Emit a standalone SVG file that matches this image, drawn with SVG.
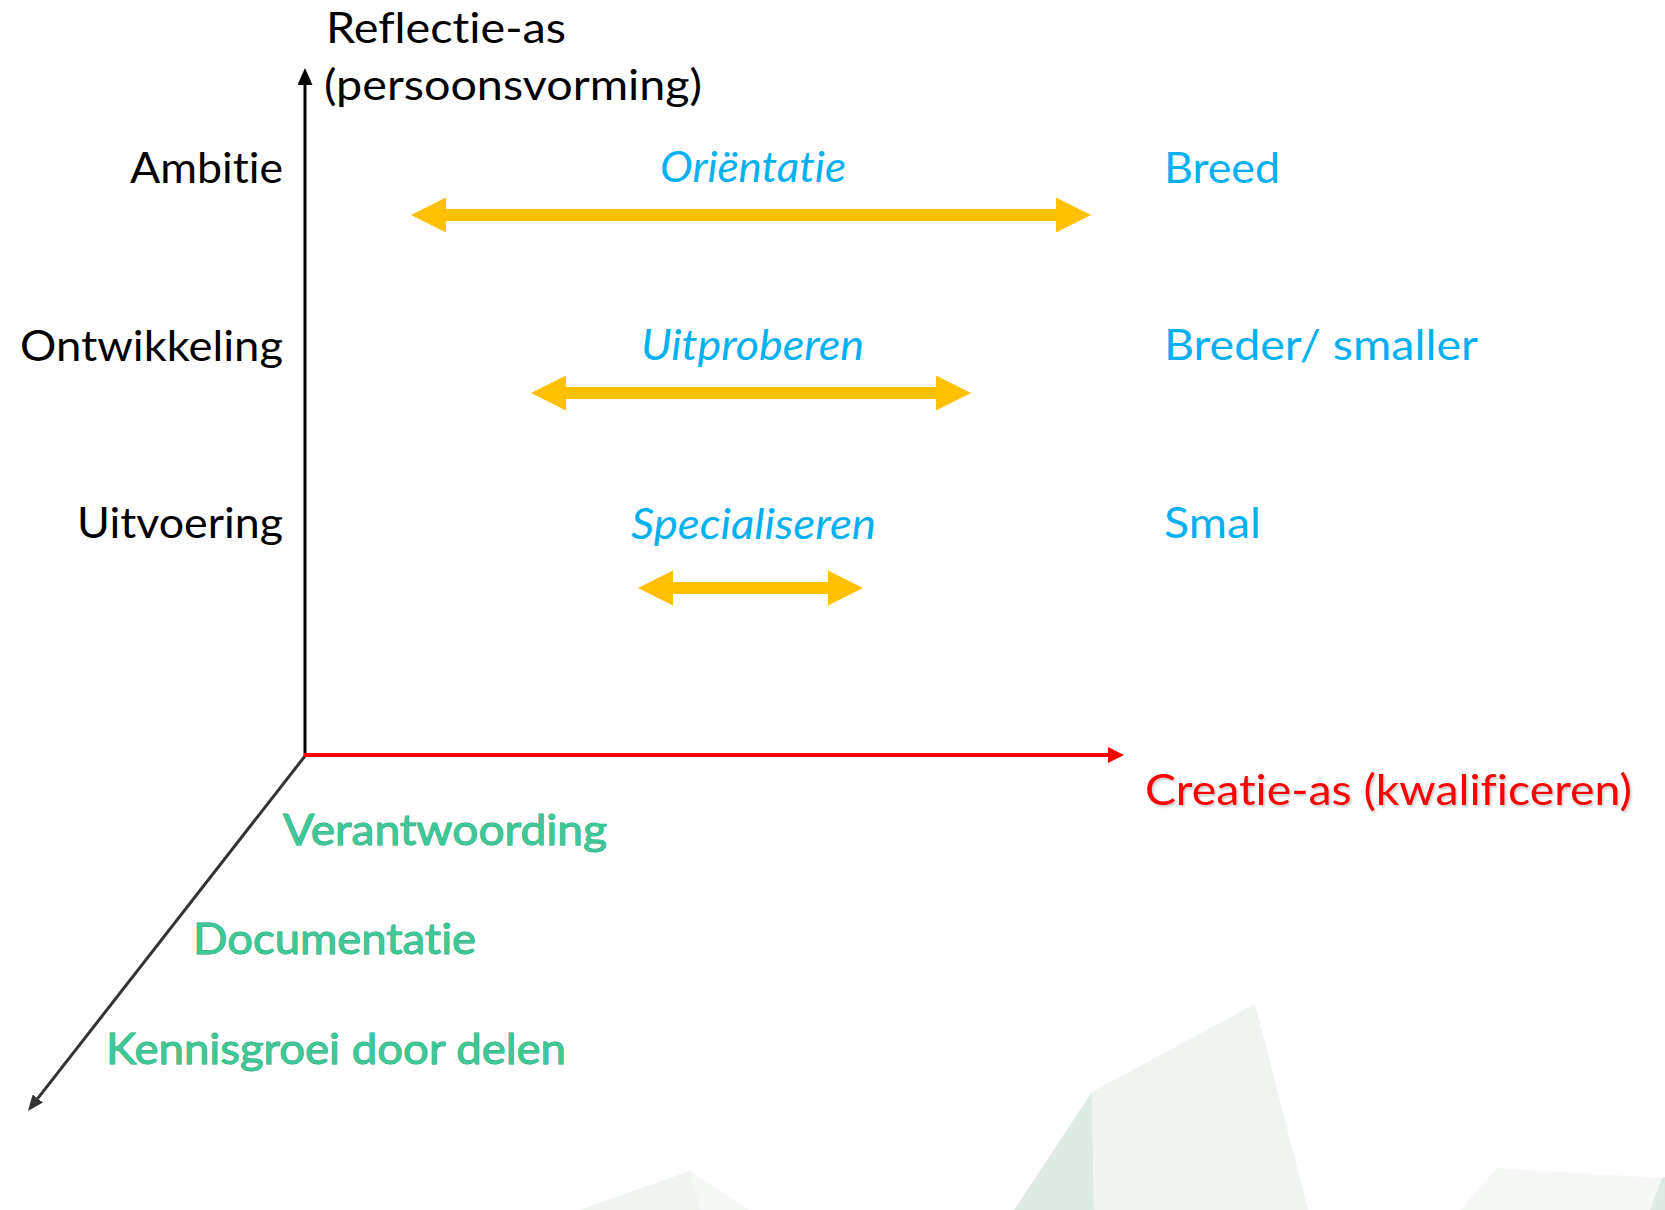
<svg xmlns="http://www.w3.org/2000/svg" width="1665" height="1210" viewBox="0 0 1665 1210">
  <defs>
    <style>
      text { font-family: Lato, "Open Sans", "Liberation Sans", sans-serif; font-size: 43px; font-variant-ligatures: none; font-feature-settings: "liga" 0, "clig" 0; }
      .black { fill: #000000; }
      .blue { fill: #00b0f0; }
      .ital { font-style: italic; }
      .red { fill: #ff0000; filter: url(#shadow); }
      .green { fill: #3fc897; stroke: #14a06d; stroke-width: 0.9; paint-order: stroke; }
      .yarrow { fill: #ffc000; }
      .bg1 { fill: #eff4f0; }
      .bg2 { fill: #deebe4; }
      .bg3 { fill: #f6f8f6; }
    </style>
    <filter id="shadow" x="-5%" y="-20%" width="110%" height="150%">
      <feDropShadow dx="1.5" dy="2" stdDeviation="1.2" flood-color="#000" flood-opacity="0.22"/>
    </filter>
    <marker id="mBlack" markerUnits="userSpaceOnUse" viewBox="0 0 17 15" refX="0" refY="7.5" markerWidth="17" markerHeight="15" orient="auto">
      <path d="M0,0 L17,7.5 L0,15 z" fill="#000"/>
    </marker>
    <marker id="mRed" markerUnits="userSpaceOnUse" viewBox="0 0 16 16" refX="0" refY="8" markerWidth="16" markerHeight="16" orient="auto">
      <path d="M0,0 L16,8 L0,16 z" fill="#ff0000"/>
    </marker>
    <marker id="mGray" markerUnits="userSpaceOnUse" viewBox="0 0 16 13" refX="0" refY="6.5" markerWidth="16" markerHeight="13" orient="auto">
      <path d="M0,0 L16,6.5 L0,13 z" fill="#333333"/>
    </marker>
  </defs>

  <rect width="1665" height="1210" fill="#ffffff"/>

  <g id="background">
    <polygon class="bg1" points="579,1210 690,1171 701,1210"/>
    <polygon class="bg3" points="690,1171 749,1210 701,1210"/>
    <polygon class="bg2" points="1014,1210 1092,1092 1094,1210"/>
    <polygon class="bg1" points="1092,1092 1255,1004 1308,1210 1094,1210"/>
    <polygon class="bg3" points="1460,1210 1497,1168 1662,1178 1650,1210"/>
    <polygon class="bg2" points="1662,1178 1665,1177 1665,1210 1650,1210"/>
  </g>

  <g id="connectors">
    <line x1="305" y1="757" x2="305" y2="85" stroke="#000" stroke-width="3" marker-end="url(#mBlack)"/>
    <line x1="305" y1="756" x2="37.8" y2="1098.4" stroke="#333333" stroke-width="3" marker-end="url(#mGray)"/>
    <line x1="304" y1="755" x2="1108" y2="755" stroke="#ff0000" stroke-width="4" marker-end="url(#mRed)"/>
    <polygon id="arrow-orientatie" class="yarrow" points="411,215 446,197.5 446,209 1056,209 1056,197.5 1091,215 1056,232.5 1056,221 446,221 446,232.5"/>
    <polygon id="arrow-uitproberen" class="yarrow" points="531,393 566,375.5 566,387 936,387 936,375.5 971,393 936,410.5 936,399 566,399 566,410.5"/>
    <polygon id="arrow-specialiseren" class="yarrow" points="638,588 673,570.5 673,582 828,582 828,570.5 863,588 828,605.5 828,594 673,594 673,605.5"/>
  </g>

  <g id="reflectie-as">
    <text class="black" x="326" y="43" textLength="240" lengthAdjust="spacingAndGlyphs">Reflectie-as</text>
    <text class="black" x="324" y="100" textLength="378" lengthAdjust="spacingAndGlyphs">(persoonsvorming)</text>
  </g>
  <g id="ambitie"><text class="black" x="130" y="183" textLength="153" lengthAdjust="spacingAndGlyphs">Ambitie</text></g>
  <g id="ontwikkeling"><text class="black" x="20" y="361" textLength="263" lengthAdjust="spacingAndGlyphs">Ontwikkeling</text></g>
  <g id="uitvoering"><text class="black" x="77" y="538" textLength="206" lengthAdjust="spacingAndGlyphs">Uitvoering</text></g>

  <g id="orientatie"><text class="blue ital" x="660" y="182" textLength="186" lengthAdjust="spacingAndGlyphs">Oriëntatie</text></g>
  <g id="uitproberen"><text class="blue ital" x="641" y="360" textLength="223" lengthAdjust="spacingAndGlyphs">Uitproberen</text></g>
  <g id="specialiseren"><text class="blue ital" x="631" y="539" textLength="245" lengthAdjust="spacingAndGlyphs">Specialiseren</text></g>

  <g id="breed"><text class="blue" x="1164" y="183" textLength="116" lengthAdjust="spacingAndGlyphs">Breed</text></g>
  <g id="breder-smaller"><text class="blue" x="1164" y="360" textLength="314" lengthAdjust="spacingAndGlyphs">Breder/ smaller</text></g>
  <g id="smal"><text class="blue" x="1164" y="538" textLength="97" lengthAdjust="spacingAndGlyphs">Smal</text></g>

  <g id="creatie-as"><text class="red" x="1145" y="805" textLength="487" lengthAdjust="spacingAndGlyphs">Creatie-as (kwalificeren)</text></g>

  <g id="verantwoording"><text class="green" x="283" y="845" textLength="324" lengthAdjust="spacingAndGlyphs">Verantwoording</text></g>
  <g id="documentatie"><text class="green" x="193" y="954" textLength="283" lengthAdjust="spacingAndGlyphs">Documentatie</text></g>
  <g id="kennisgroei"><text class="green" x="106" y="1064" textLength="460" lengthAdjust="spacingAndGlyphs">Kennisgroei door delen</text></g>
</svg>
